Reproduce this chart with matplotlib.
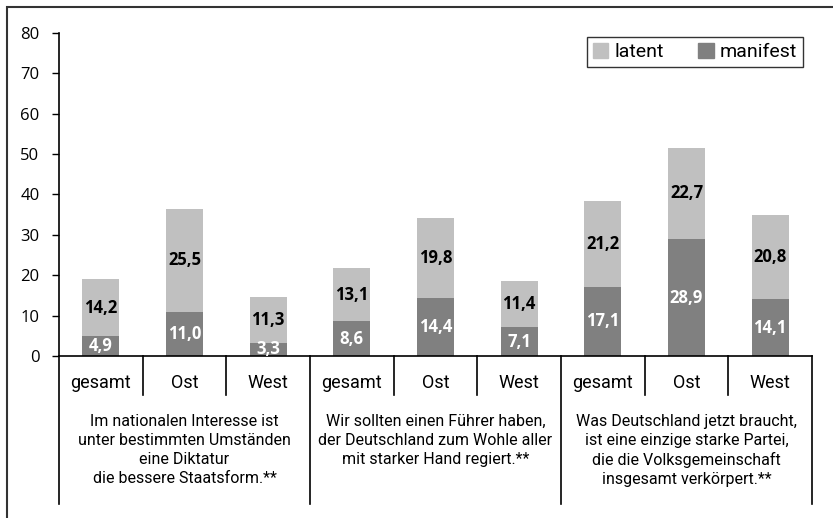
import matplotlib
matplotlib.use('Agg')
import matplotlib.pyplot as plt
from matplotlib import font_manager
from matplotlib.patches import Patch, Rectangle
import matplotlib.transforms as mtransforms
import numpy as np

# Data
categories = ['gesamt', 'Ost', 'West'] * 3
manifest = [4.9, 11.0, 3.3, 8.6, 14.4, 7.1, 17.1, 28.9, 14.1]
latent = [14.2, 25.5, 11.3, 13.1, 19.8, 11.4, 21.2, 22.7, 20.8]
groups = [
    'Im nationalen Interesse ist\nunter bestimmten Umständen\neine Diktatur\ndie bessere Staatsform.**',
    'Wir sollten einen Führer haben,\nder Deutschland zum Wohle aller\nmit starker Hand regiert.**',
    'Was Deutschland jetzt braucht,\nist eine einzige starke Partei,\ndie die Volksgemeinschaft\ninsgesamt verkörpert.**',
]

c_latent = '#c0c0c0'
c_manifest = '#808080'

names = {f.name for f in font_manager.fontManager.ttflist}
narrow = 'Liberation Sans Narrow' if 'Liberation Sans Narrow' in names else 'Roboto'
plt.rcParams['font.family'] = ['Open Sans', 'DejaVu Sans']

fig = plt.figure(figsize=(8.33, 5.18), dpi=100)
ax = fig.add_axes([59 / 833, 162 / 518, 753 / 833, 323 / 518])

x = np.arange(len(categories))
w = 0.44
ax.bar(x, manifest, w, color=c_manifest, label='manifest', zorder=2)
ax.bar(x, latent, w, bottom=manifest, color=c_latent, label='latent', zorder=2)

for i in range(len(x)):
    ax.text(x[i], manifest[i] / 2, f'{manifest[i]:.1f}'.replace('.', ','),
            ha='center', va='center', color='white', fontsize=12, fontweight='bold')
    ax.text(x[i], manifest[i] + latent[i] / 2, f'{latent[i]:.1f}'.replace('.', ','),
            ha='center', va='center', color='black', fontsize=12, fontweight='bold')

ax.set_xlim(-0.5, 8.5)
ax.set_ylim(0, 80)
ax.set_yticks(range(0, 81, 10))
ax.tick_params(axis='y', labelsize=12, length=5, width=1, direction='out', pad=9)
ax.set_xticks([])
for s in ['top', 'right']:
    ax.spines[s].set_visible(False)
ax.spines['left'].set_linewidth(1.2)
ax.spines['bottom'].set_linewidth(1.2)

# category labels and separators below the axis
trans = mtransforms.blended_transform_factory(ax.transData, ax.transAxes)
short = -39 / 323
long_ = -148 / 323
for i, cat in enumerate(categories):
    ax.text(x[i], -27 / 323, cat, transform=trans, ha='center', va='center',
            fontsize=13, family=narrow)
for b in np.arange(-0.5, 9.0, 1.0):
    bottom = long_ if (b + 0.5) % 3 == 0 else short
    ax.plot([b, b], [0, bottom], transform=trans, color='black', lw=1.2, clip_on=False)
for g, txt in enumerate(groups):
    ax.text(3 * g + 1, -58 / 323, txt, transform=trans, ha='center', va='top',
            fontsize=11.5, family=narrow, linespacing=1.33)

# legend
handles = [Patch(color=c_latent, label='latent'), Patch(color=c_manifest, label='manifest')]
leg = ax.legend(handles=handles, loc='upper right', bbox_to_anchor=(0.988, 0.988),
                borderaxespad=0, ncol=2, fancybox=False, edgecolor='#333333', framealpha=1,
                handlelength=0.8, handleheight=0.8, columnspacing=1.8, handletextpad=0.3,
                borderpad=0.3, prop={'family': narrow, 'size': 14})
leg.get_frame().set_linewidth(1.0)

# outer frame
fig.patches.append(Rectangle((7 / 833, -0.1), 1.2, 1 - 7 / 518 + 0.1, transform=fig.transFigure,
                             fill=False, edgecolor='#333333', lw=1.5))

fig.savefig('out.png', dpi=100)
